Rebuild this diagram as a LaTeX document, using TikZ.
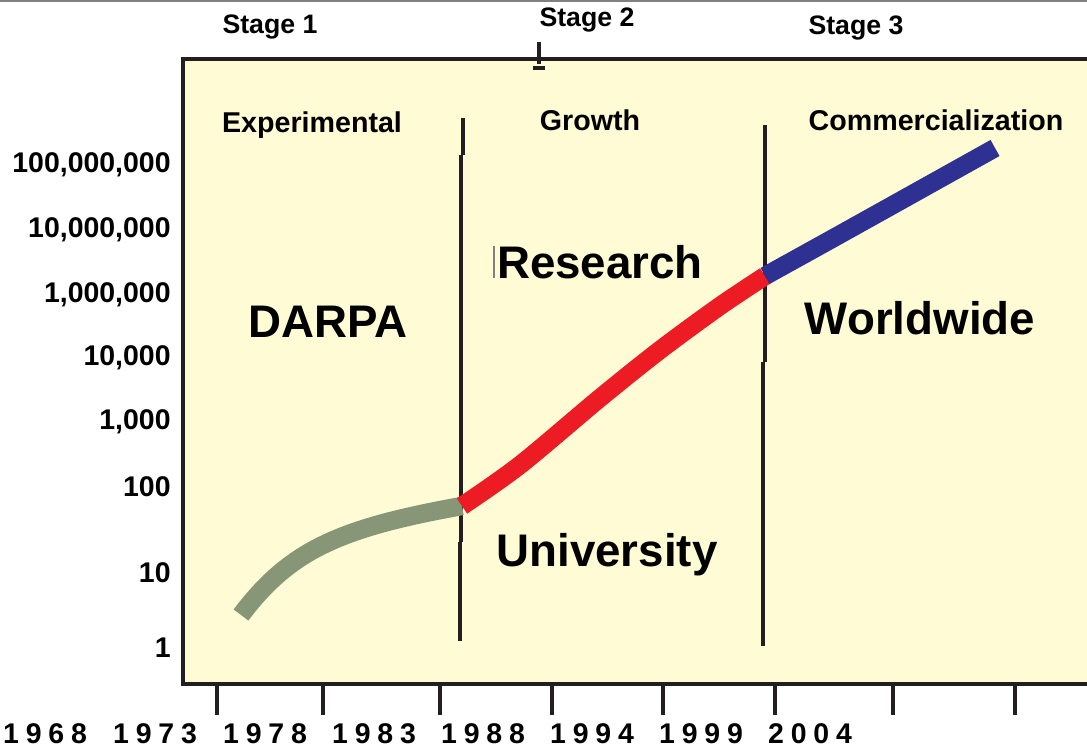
\documentclass[tikz,border=0pt]{standalone}
\usepackage{fontspec}
\setmainfont{Liberation Sans}
\newfontfamily\yearfont[LetterSpace=24]{Liberation Sans}

\definecolor{hintergrund}{RGB}{255,251,213}
\definecolor{rahmen}{RGB}{35,31,32}
\definecolor{gruen}{RGB}{134,150,118}
\definecolor{rot}{RGB}{237,28,36}
\definecolor{blau}{RGB}{46,49,146}

\tikzset{
	stagetext/.style={font=\fontsize{15.2}{18}\selectfont\bfseries},
	phasetext/.style={font=\fontsize{16.3}{19}\selectfont\bfseries},
	grosstext/.style={font=\fontsize{26}{30}\selectfont\bfseries},
	achstext/.style={font=\fontsize{16.2}{19}\selectfont\bfseries, anchor=east, inner sep=0pt},
	jahrtext/.style={font=\yearfont\fontsize{16.2}{19}\selectfont\bfseries, inner sep=0pt},
	trennlinie/.style={line width=2.3pt, color=rahmen},
	kurve/.style={line width=10.5pt, line cap=butt, line join=round},
}

\begin{document}
\begin{tikzpicture}[x=0.02cm, y=-0.02cm]
	\useasboundingbox (0,0) rectangle (1087,749);
	
	%Linie oben
	\draw[gray, line width=1.2pt] (0,1) -- (1087,1);
	
	%Diagrammfeld
	\draw[fill=hintergrund, draw=rahmen, line width=2.8pt] (183,59) rectangle (1110,684);
	
	%Teilstriche
	\foreach \x in {217,323,440,552,663,775,893,1015}
		\draw[rahmen, line width=2.3pt] (\x,686) -- (\x,715);
	
	%Jahre
	\foreach \x/\jahr in {45/1968,155/1973,265/1978,374/1983,483/1988,592/1994,701/1999,810/2004}
		\node[jahrtext] (j\jahr) at (\x,734) {\jahr};
	
	%Werte
	\foreach \y/\wert/\name in {165/{100,000,000}/a, 230/{10,000,000}/b, 295/{1,000,000}/c, 358/{10,000}/d, 422/{1,000}/e, 487/{100}/f, 573/{10}/g, 648/{1}/h}
		\node[achstext] (w\name) at (171,\y) {\wert};
	
	%Stufen
	\draw(270,27) node[stagetext](stufe1){Stage 1};
	\draw(587,20) node[stagetext](stufe2){Stage 2};
	\draw(856,28) node[stagetext](stufe3){Stage 3};
	\draw[rahmen, line width=2.5pt] (539,42) -- (539,64);
	\draw[rahmen, line width=2pt] (533,68) -- (545,68);
	
	%Phasen
	\draw(312,125) node[phasetext](exp){Experimental};
	\draw(590,120) node[phasetext](wachs){Growth};
	\draw(936,120) node[phasetext](komm){Commercialization};
	
	%Trennlinien
	\draw[trennlinie] (463,118) -- (463,155);
	\draw[trennlinie] (461,155) -- (461,542);
	\draw[trennlinie] (460,542) -- (460,641);
	\draw[trennlinie] (765,125) -- (765,362);
	\draw[trennlinie] (763,362) -- (763,646);
	
	%Beschriftungen
	\draw(328,322) node[grosstext](darpa){DARPA};
	\draw(600,262) node[grosstext](forsch){Research};
	\draw[gray, line width=0.8pt] (494,246) -- (494,278);
	\draw(920,318) node[grosstext](welt){Worldwide};
	\draw(607,555) node[grosstext](uni){University};
	
	%Kurve
	\coordinate (anfang) at (241,615);
	\coordinate (knick1) at (462,506);
	\coordinate (knick2) at (765,276);
	\coordinate (ende) at (995,148);
	\draw[kurve, gruen] (anfang) .. controls (290,550) and (340,528) .. (knick1);
	\draw[kurve, rot] plot[smooth] coordinates {(knick1) (520,465) (600,398) (660,350) (720,306) (knick2)};
	\draw[kurve, blau] plot[smooth] coordinates {(knick2) (830,240) (900,201) (ende)};
	
\end{tikzpicture}
\end{document}
